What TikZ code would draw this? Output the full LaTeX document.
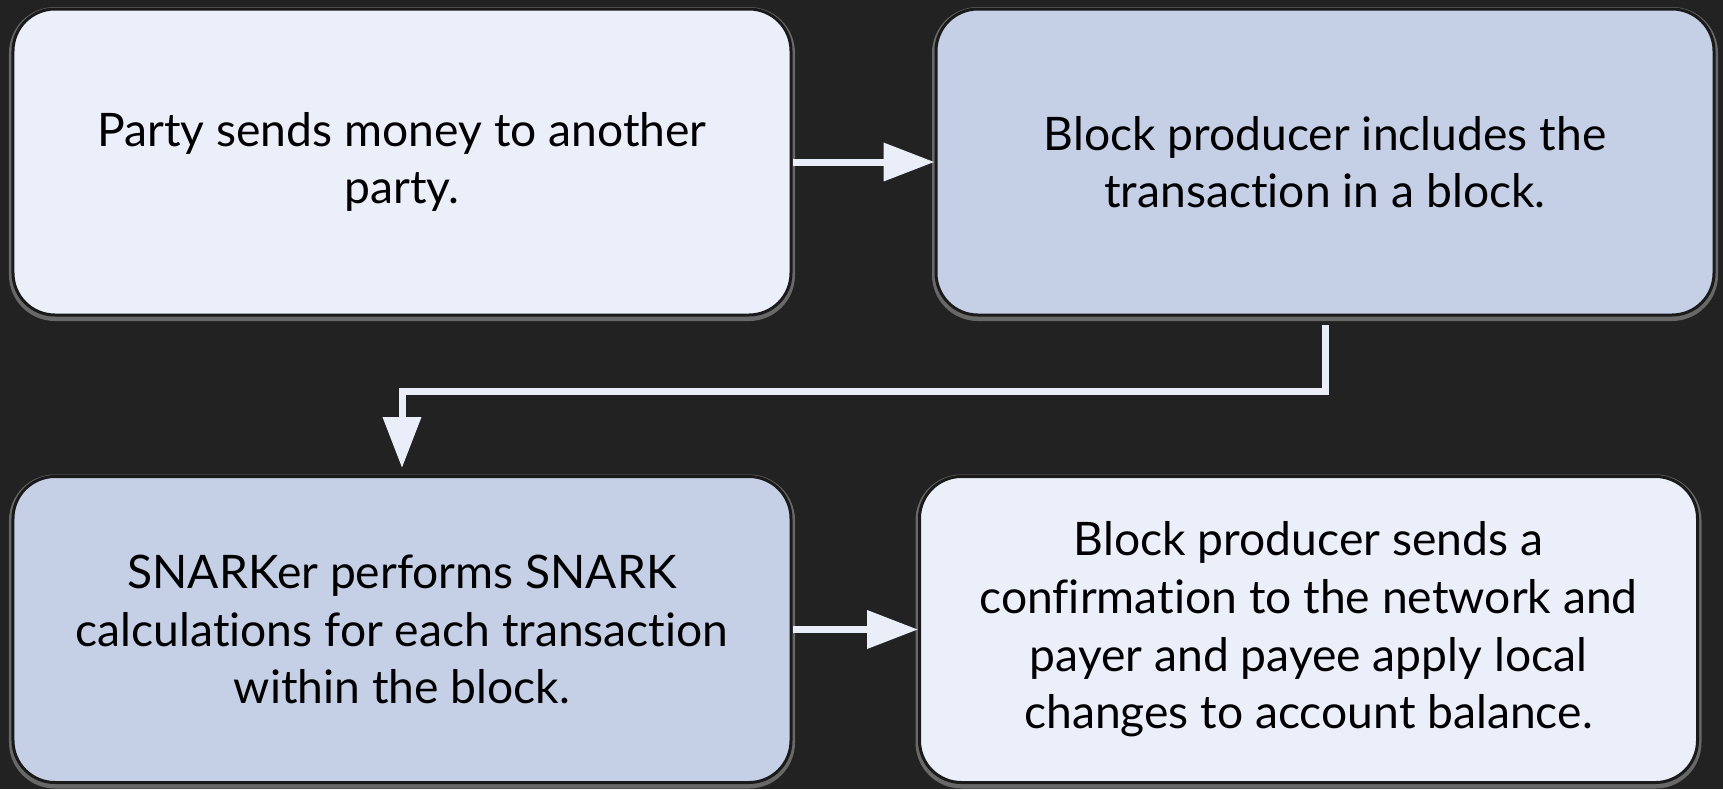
\documentclass[tikz,border=0pt]{standalone}
\usepackage{fontspec}
\setmainfont{Lato}[Ligatures={NoCommon}]
\usepackage{tikz}
\usetikzlibrary{shapes}
\usetikzlibrary{positioning}
\usetikzlibrary{arrows.meta}
\definecolor{bgdark}{HTML}{222222}
\definecolor{boxlight}{HTML}{EBEFF9}
\definecolor{boxdark}{HTML}{C5D0E7}
\definecolor{edgecol}{HTML}{E9EEF9}
\definecolor{rimcol}{HTML}{1A1A1A}
\tikzset{
    mybox/.style = {rectangle, rounded corners=0.84cm, draw=rimcol, line width=0.06cm,
        minimum width = 15.56cm, minimum height = 6.12cm, align=center,
        font=\fontsize{26.3}{32.8}\selectfont,
        preaction={draw=gray!75!bgdark, line width=0.16cm, transform canvas={yshift=-0.04cm}}},
    myboxl/.style = {mybox, fill=boxlight},
    myboxd/.style = {mybox, fill=boxdark},
    edgew/.style = {-{Triangle[length=1.02cm,width=0.74cm]}, line width=0.14cm, draw=edgecol}, % light arrow
}

\begin{document}
\begin{tikzpicture}
\fill[bgdark] (0,0) rectangle (34.46,-15.78);
\useasboundingbox (0,0) rectangle (34.46,-15.78);
%
\node[myboxl] at (8.04,-3.24) (a) {Party sends money to another\\party.};
\node[myboxd] at (26.50,-3.24) (b) {Block producer includes the\\transaction in a block.};
\node[myboxd] at (8.04,-12.59) (c) {SNARKer performs SNARK\\calculations for each transaction\\within the block.};
\node[myboxl] at (26.17,-12.59) (d) {Block producer sends a\\confirmation to the network and\\payer and payee apply local\\changes to account balance.};
\coordinate (turn) at (17.0,-7.82);
%
\draw[edgew] (a.east) -- (b.west);
\draw[edgew, shorten >=0.14cm] ([yshift=-0.16cm]b.south) -- (b.south |- turn) -| (c.north);
\draw[edgew] (c.east) -- (d.west);
\end{tikzpicture}
\end{document}
